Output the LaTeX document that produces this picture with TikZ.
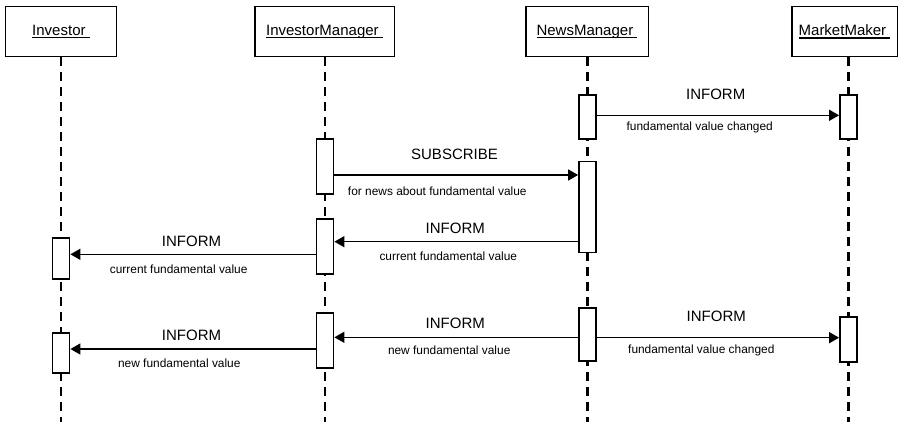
\documentclass[tikz,border=0pt]{standalone}
\usepackage{fontspec}
\setmainfont{Liberation Sans}
\usetikzlibrary{arrows.meta}

% object name with a trailing space, underlined just below the baseline
\newcommand\objname[1]{\setbox0\hbox{#1\ }\rlap{\rule[-3.2pt]{\wd0}{1.1pt}}\box0}

\tikzset{
  header/.style={draw, line width=1.5pt, fill=white, inner sep=0pt,
    minimum height=50pt, font=\fontsize{15}{18}\selectfont},
  life/.style={line width=2.6pt, dash pattern=on 9pt off 6pt},
  act/.style={draw, line width=1.8pt, fill=white, inner sep=0pt, minimum width=17pt},
  msg/.style={line width=1.5pt, -{Triangle[length=10pt,width=11pt]}},
  big/.style={anchor=base, inner sep=0pt, font=\fontsize{15}{18}\selectfont},
  small/.style={anchor=base, inner sep=0pt, font=\fontsize{11.9}{14}\selectfont},
}

\begin{document}
\begin{tikzpicture}[x=1pt, y=-1pt]
\useasboundingbox (0,0) rectangle (899,422);

% object headers
\node[header, minimum width=111pt]   (h1) at (61,31.5)    {\objname{Investor}};
\node[header, minimum width=139.5pt] (h2) at (324.5,31.5) {\objname{InvestorManager}};
\node[header, minimum width=122.5pt] (h3) at (587,31.5)   {\objname{NewsManager}};
\node[header, minimum width=105.5pt] (h4) at (844.5,31.5) {\objname{MarketMaker}};

% lifeline axes and the lower end of the picture
\coordinate (x1) at (61,0);
\coordinate (x2) at (325,0);
\coordinate (x3) at (587.5,0);
\coordinate (x4) at (848.5,0);
\coordinate (bot) at (0,424);

\draw[life] (x1 |- h1.south) -- (x1 |- bot);
\draw[life] (x2 |- h2.south) -- (x2 |- bot);
\draw[life] (x3 |- h3.south) -- (x3 |- bot);
\draw[life] (x4 |- h4.south) -- (x4 |- bot);

% activation bars
\node[act, minimum height=44pt]   (nm1) at (587.5,117)   {};
\node[act, minimum height=44pt]   (mm1) at (848.5,117)   {};
\node[act, minimum height=55pt]   (im1) at (325,166.5)   {};
\node[act, minimum height=90.8pt] (nm2) at (587.5,207)   {};
\node[act, minimum height=54.4pt] (im2) at (325,246.4)   {};
\node[act, minimum height=41pt]   (iv1) at (61,258.5)    {};
\node[act, minimum height=53pt]   (nm3) at (587.5,334.8) {};
\node[act, minimum height=45pt]   (mm2) at (848.5,339.3) {};
\node[act, minimum height=55pt]   (im3) at (325,340.7)   {};
\node[act, minimum height=40pt]   (iv2) at (61,353.3)    {};

% message rows
\coordinate (r1) at (0,115.3);
\coordinate (r2) at (0,175);
\coordinate (r3) at (0,241.7);
\coordinate (r4) at (0,254.3);
\coordinate (r5) at (0,337.3);
\coordinate (r6) at (0,349);
\coordinate (r7) at (0,337.7);

% messages
\draw[msg] (nm1.east |- r1) -- (mm1.west |- r1);
\draw[msg] (im1.east |- r2) -- (nm2.west |- r2);
\draw[msg] (nm2.west |- r3) -- (im2.east |- r3);
\draw[msg] (im2.west |- r4) -- (iv1.east |- r4);
\draw[msg] (nm3.west |- r5) -- (im3.east |- r5);
\draw[msg] (im3.west |- r6) -- (iv2.east |- r6);
\draw[msg] (nm3.east |- r7) -- (mm2.west |- r7);

% message labels
\node[big]   (t1) at (715.7,99.3)  {INFORM};
\node[small] (s1) at (699.7,130.6) {fundamental value changed};
\node[big]   (t2) at (454.5,159.3) {SUBSCRIBE};
\node[small] (s2) at (437.3,196)   {for news about fundamental value};
\node[big]   (t3) at (455.3,233.3) {INFORM};
\node[small] (s3) at (448.3,260.7) {current fundamental value};
\node[big]   (t4) at (191.5,246)   {INFORM};
\node[small] (s4) at (178.7,273.3) {current fundamental value};
\node[big]   (t5) at (455.3,328.3) {INFORM};
\node[small] (s5) at (449.2,354.7) {new fundamental value};
\node[big]   (t6) at (191.5,340.7) {INFORM};
\node[small] (s6) at (179.3,367.3) {new fundamental value};
\node[big]   (t7) at (716.3,321.7) {INFORM};
\node[small] (s7) at (701.3,353.7) {fundamental value changed};
\end{tikzpicture}
\end{document}
